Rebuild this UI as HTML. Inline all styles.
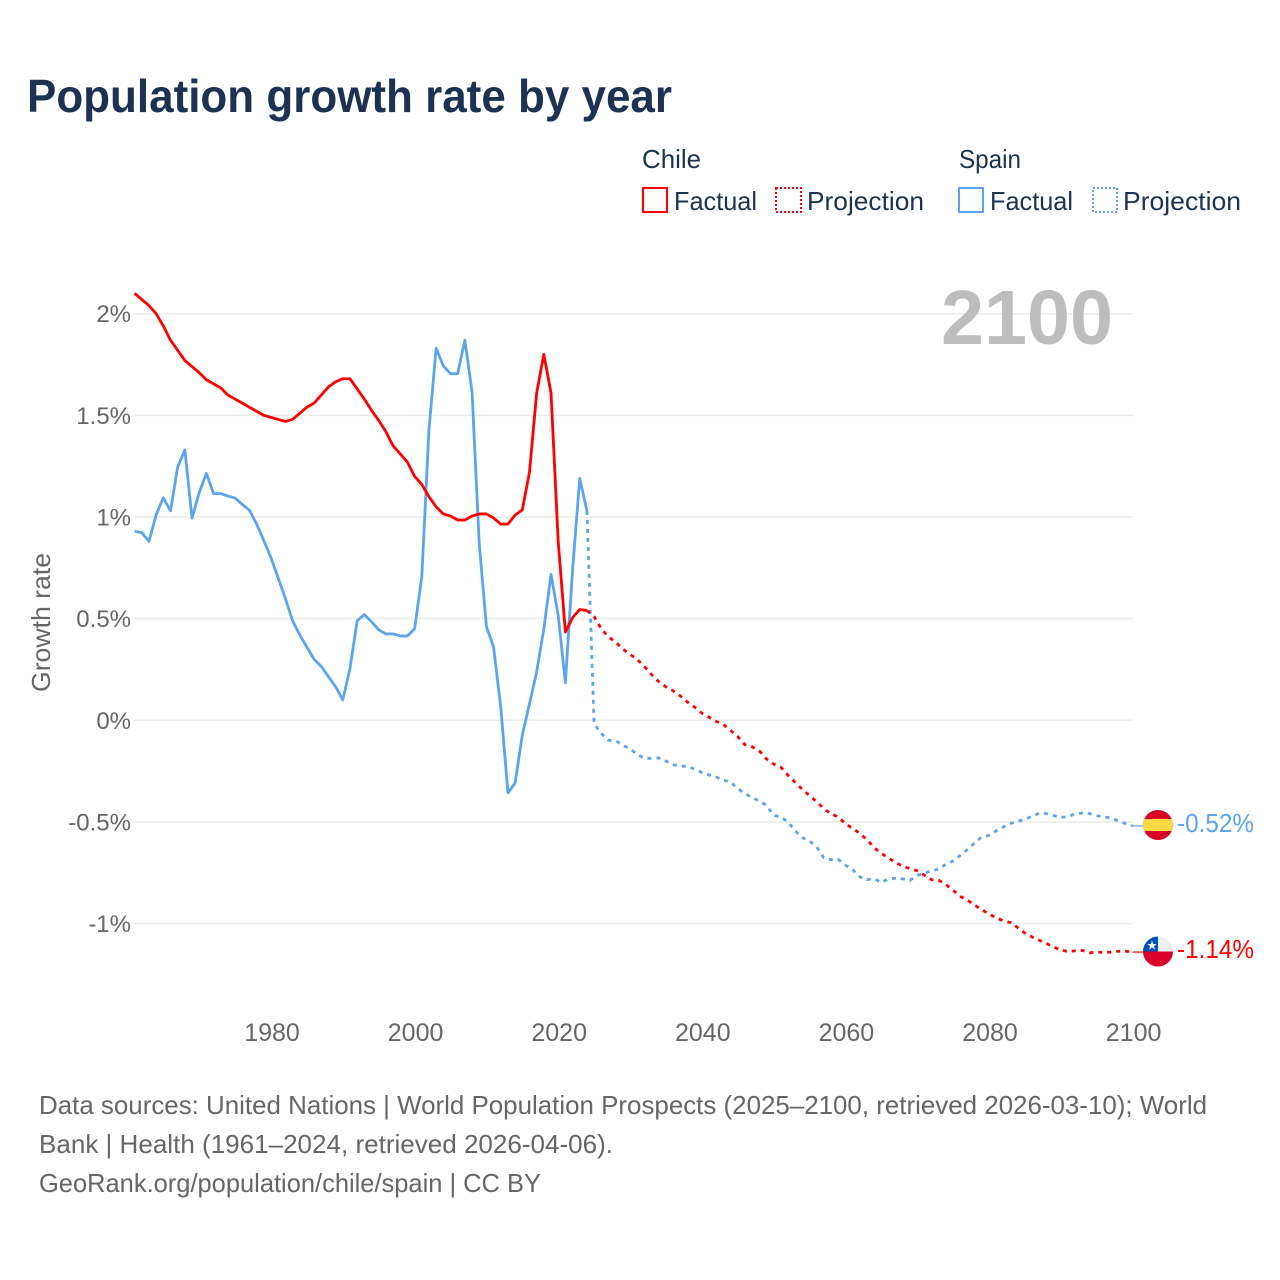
<!DOCTYPE html>
<html lang="en">
<head>
<meta charset="utf-8">
<title>Population growth rate by year</title>
<style>
html,body{margin:0;padding:0;background:#fff;}
svg{display:block;}
text{font-family:"Liberation Sans",sans-serif;}
</style>
</head>
<body>
<svg id="chart" xmlns="http://www.w3.org/2000/svg" width="1280" height="1280" viewBox="0 0 1280 1280">
  <rect x="0" y="0" width="1280" height="1280" fill="#fff"/>
  <text x="27" y="112" font-size="46" font-weight="700" fill="#1b3252" textLength="645" lengthAdjust="spacingAndGlyphs">Population growth rate by year</text>

  <g>
    <text x="642" y="168" font-size="26" fill="#1b3252" textLength="59" lengthAdjust="spacingAndGlyphs">Chile</text>
    <text x="959" y="168" font-size="26" fill="#1b3252" textLength="62" lengthAdjust="spacingAndGlyphs">Spain</text>
    <g>
      <rect x="643" y="188" width="24" height="24" fill="none" stroke="#ff0000" stroke-width="2"/>
      <text x="674" y="210" font-size="26" fill="#1b3252" textLength="83" lengthAdjust="spacingAndGlyphs">Factual</text>
    </g>
    <g>
      <rect x="776" y="188" width="25" height="24" fill="none" stroke="#ff0000" stroke-width="2" stroke-dasharray="2 2"/>
      <text x="807" y="210" font-size="26" fill="#1b3252" textLength="117" lengthAdjust="spacingAndGlyphs">Projection</text>
    </g>
    <g>
      <rect x="959" y="188" width="24" height="24" fill="none" stroke="#5ba5ef" stroke-width="2"/>
      <text x="990" y="210" font-size="26" fill="#1b3252" textLength="83" lengthAdjust="spacingAndGlyphs">Factual</text>
    </g>
    <g>
      <rect x="1093" y="188" width="24" height="24" fill="none" stroke="#5ba5ef" stroke-width="2" stroke-dasharray="2 2"/>
      <text x="1123" y="210" font-size="26" fill="#1b3252" textLength="118" lengthAdjust="spacingAndGlyphs">Projection</text>
    </g>
  </g>

  <g id="grid"></g>
  <g id="yticks"></g>
  <g id="xticks"></g>

  <text transform="translate(50,692) rotate(-90)" x="0" y="0" font-size="26" fill="#666" textLength="139" lengthAdjust="spacingAndGlyphs">Growth rate</text>
  <text x="941" y="344" font-size="77" font-weight="700" fill="#bdbdbd" textLength="172" lengthAdjust="spacingAndGlyphs">2100</text>

  <g id="series"></g>

  <defs>
    <clipPath id="flag-clip-spain"><circle cx="1158" cy="825" r="15"/></clipPath>
    <clipPath id="flag-clip-chile"><circle cx="1158" cy="951.5" r="15"/></clipPath>
  </defs>
  <g clip-path="url(#flag-clip-spain)">
    <rect x="1143" y="810" width="30" height="30" fill="#d80027"/>
    <rect x="1143" y="819" width="30" height="12" fill="#ffda44"/>
  </g>
  <g clip-path="url(#flag-clip-chile)">
    <rect x="1143" y="936.5" width="30" height="15" fill="#f0f0f0"/>
    <rect x="1143" y="951.5" width="30" height="15" fill="#d80027"/>
    <rect x="1143" y="936.5" width="15" height="15" fill="#0052b4"/>
    <polygon points="1152,940.5 1153.2,944 1156.8,944 1153.9,946.2 1155,949.6 1152,947.5 1149,949.6 1150.1,946.2 1147.2,944 1150.8,944" fill="#f0f0f0"/>
  </g>
  <text x="1177" y="832" font-size="26" fill="#5ba5ef" textLength="77" lengthAdjust="spacingAndGlyphs">-0.52%</text>
  <text x="1177" y="958" font-size="26" fill="#ff0000" textLength="77" lengthAdjust="spacingAndGlyphs">-1.14%</text>

  <g font-size="26" fill="#666">
    <text x="39" y="1114" textLength="1168" lengthAdjust="spacingAndGlyphs">Data sources: United Nations | World Population Prospects (2025–2100, retrieved 2026-03-10); World</text>
    <text x="39" y="1153" textLength="574" lengthAdjust="spacingAndGlyphs">Bank | Health (1961–2024, retrieved 2026-04-06).</text>
    <text x="39" y="1192" textLength="502" lengthAdjust="spacingAndGlyphs">GeoRank.org/population/chile/spain | CC BY</text>
  </g>
</svg>

<script>
const factualStartYear = 1961;
const projectionStartYear = 2024;
const yTickValues = [2, 1.5, 1, 0.5, 0, -0.5, -1];
const yTickLabels = ['2%', '1.5%', '1%', '0.5%', '0%', '-0.5%', '-1%'];
const xTickYears = [1980, 2000, 2020, 2040, 2060, 2080, 2100];

const chileFactual = [
  2.10, 2.07, 2.04, 2.00, 1.94, 1.87, 1.82, 1.77, 1.74, 1.71,
  1.675, 1.655, 1.635, 1.60, 1.58, 1.56, 1.54, 1.52, 1.50, 1.49,
  1.48, 1.47, 1.48, 1.51, 1.54, 1.56, 1.60, 1.64, 1.665, 1.68,
  1.68, 1.63, 1.58, 1.525, 1.475, 1.42, 1.35, 1.31, 1.27, 1.20,
  1.16, 1.10, 1.05, 1.015, 1.005, 0.985, 0.985, 1.005, 1.015, 1.015,
  0.995, 0.965, 0.965, 1.01, 1.035, 1.22, 1.61, 1.80, 1.61, 0.88,
  0.434, 0.505, 0.545, 0.54
];
const chileProjection = [
  0.54, 0.51, 0.45, 0.41, 0.385, 0.35, 0.325, 0.30, 0.265, 0.225,
  0.19, 0.165, 0.145, 0.12, 0.09, 0.065, 0.035, 0.015, -0.005, -0.02,
  -0.05, -0.08, -0.12, -0.13, -0.15, -0.19, -0.215, -0.23, -0.27, -0.305,
  -0.34, -0.37, -0.40, -0.435, -0.46, -0.475, -0.51, -0.53, -0.557, -0.587,
  -0.626, -0.655, -0.677, -0.70, -0.718, -0.73, -0.74, -0.762, -0.784, -0.787,
  -0.808, -0.836, -0.866, -0.885, -0.91, -0.931, -0.954, -0.97, -0.987, -0.995,
  -1.02, -1.046, -1.066, -1.082, -1.098, -1.115, -1.13, -1.138, -1.134, -1.132,
  -1.144, -1.139, -1.143, -1.14, -1.136, -1.136, -1.14
];
const spainFactual = [
  0.93, 0.923, 0.88, 1.01, 1.095, 1.03, 1.245, 1.33, 0.995, 1.12,
  1.215, 1.115, 1.115, 1.103, 1.093, 1.062, 1.033, 0.965, 0.884, 0.80,
  0.70, 0.60, 0.49, 0.42, 0.36, 0.30, 0.265, 0.215, 0.165, 0.10,
  0.255, 0.49, 0.52, 0.485, 0.445, 0.425, 0.425, 0.415, 0.415, 0.45,
  0.705, 1.43, 1.83, 1.743, 1.705, 1.705, 1.87, 1.615, 0.87, 0.462,
  0.36, 0.065, -0.357, -0.308, -0.074, 0.082, 0.238, 0.45, 0.718, 0.516,
  0.184, 0.74, 1.19, 1.03
];
const spainProjection = [
  1.03, -0.017, -0.065, -0.098, -0.10, -0.123, -0.14, -0.167, -0.187, -0.187,
  -0.185, -0.20, -0.218, -0.226, -0.226, -0.24, -0.257, -0.269, -0.279, -0.295,
  -0.303, -0.336, -0.36, -0.38, -0.397, -0.418, -0.467, -0.475, -0.50, -0.544,
  -0.577, -0.593, -0.623, -0.677, -0.685, -0.684, -0.713, -0.734, -0.77, -0.784,
  -0.779, -0.798, -0.78, -0.777, -0.78, -0.787, -0.762, -0.754, -0.738, -0.733,
  -0.708, -0.692, -0.664, -0.636, -0.603, -0.574, -0.566, -0.544, -0.525, -0.508,
  -0.497, -0.487, -0.472, -0.457, -0.459, -0.469, -0.477, -0.475, -0.459, -0.457,
  -0.459, -0.469, -0.475, -0.48, -0.495, -0.508, -0.52
];

const SVG_NS = 'http://www.w3.org/2000/svg';
const RED = '#ff0000';
const BLUE = '#5ba5ef';
function xScale(year) { return 271 + (year - 1980) * 7.18; }
function yScale(value) { return 720.3 - value * 203.3; }
function pointsFor(values, startYear) {
  return values.map(function (v, i) {
    return xScale(startYear + i).toFixed(2) + ',' + yScale(v).toFixed(2);
  }).join(' ');
}

const gridGroup = document.getElementById('grid');
const yTickGroup = document.getElementById('yticks');
const xTickGroup = document.getElementById('xticks');
const seriesGroup = document.getElementById('series');

yTickValues.forEach(function (value, i) {
  const line = document.createElementNS(SVG_NS, 'line');
  
  
  line.setAttribute('x1', 133);
  line.setAttribute('x2', 1133);
  line.setAttribute('y1', yScale(value));
  line.setAttribute('y2', yScale(value));
  line.setAttribute('stroke', '#ececec');
  line.setAttribute('stroke-width', 1.5);
  gridGroup.appendChild(line);

  const label = document.createElementNS(SVG_NS, 'text');
  
  
  label.setAttribute('x', 131);
  label.setAttribute('y', yScale(value) + 8.5);
  label.setAttribute('text-anchor', 'end');
  label.setAttribute('font-size', 24);
  label.setAttribute('fill', '#666');
  label.textContent = yTickLabels[i];
  yTickGroup.appendChild(label);
});

xTickYears.forEach(function (year) {
  const label = document.createElementNS(SVG_NS, 'text');
  
  
  label.setAttribute('x', xScale(year) + 1);
  label.setAttribute('y', 1041);
  label.setAttribute('text-anchor', 'middle');
  label.setAttribute('font-size', 25);
  label.setAttribute('fill', '#666');
  label.textContent = String(year);
  xTickGroup.appendChild(label);
});

function drawFactual(values, color) {
  const line = document.createElementNS(SVG_NS, 'polyline');
  
  
  line.setAttribute('points', pointsFor(values, factualStartYear));
  line.setAttribute('fill', 'none');
  line.setAttribute('stroke', color);
  line.setAttribute('stroke-width', 2.8);
  line.setAttribute('stroke-linejoin', 'round');
  seriesGroup.appendChild(line);
}
function drawProjection(values, color) {
  const line = document.createElementNS(SVG_NS, 'polyline');
  
  
  line.setAttribute('points', pointsFor(values, projectionStartYear));
  line.setAttribute('fill', 'none');
  line.setAttribute('stroke', color);
  line.setAttribute('stroke-width', 2.8);
  line.setAttribute('stroke-dasharray', '4 5');
  seriesGroup.appendChild(line);

  const last = values[values.length - 1];
  const leader = document.createElementNS(SVG_NS, 'line');
  
  
  leader.setAttribute('x1', xScale(2100));
  leader.setAttribute('x2', 1143);
  leader.setAttribute('y1', yScale(last));
  leader.setAttribute('y2', yScale(last));
  leader.setAttribute('stroke', color);
  leader.setAttribute('stroke-width', 1.2);
  seriesGroup.appendChild(leader);
}
drawFactual(spainFactual, BLUE);
drawFactual(chileFactual, RED);
drawProjection(spainProjection, BLUE);
drawProjection(chileProjection, RED);
</script>
</body>
</html>
